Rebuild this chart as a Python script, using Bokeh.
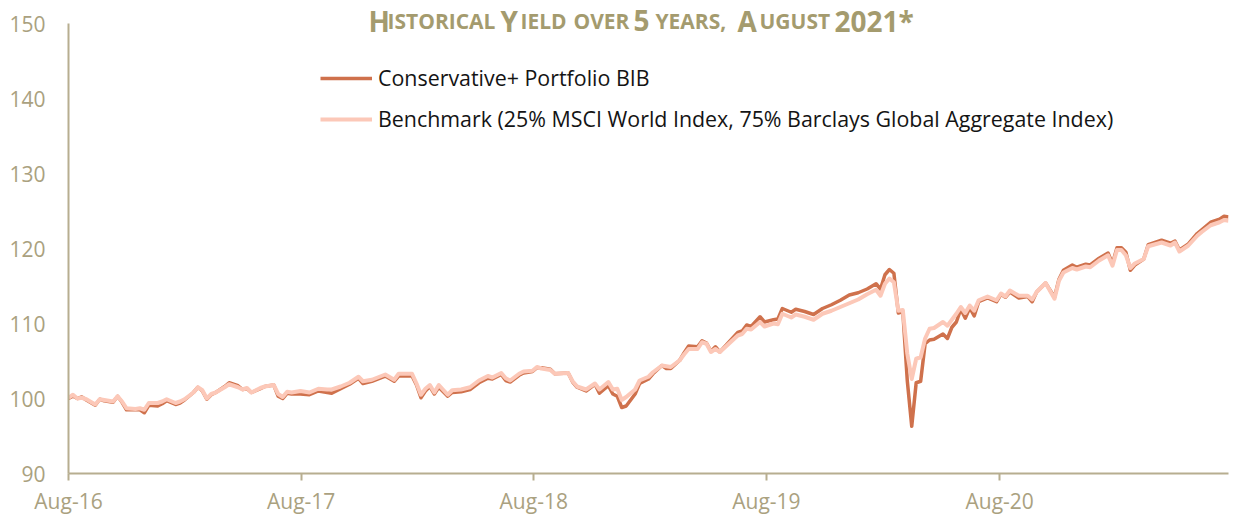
import numpy as np
import pandas as pd
from bokeh.plotting import figure
from bokeh.models import (Label, Legend, LegendItem, FixedTicker, DatetimeTickFormatter,
                          Range1d, ColumnDataSource)
from bokeh.embed import file_html
from bokeh.resources import INLINE

# ---------------- data (weekly index) ----------------
start_date = "2016-08-01"
weeks = [0, 1, 2, 3, 4, 6, 7, 8, 10, 11, 12, 13, 15, 16, 17, 18, 20, 21, 22, 24, 25, 26, 28, 29, 30, 31, 32, 33,
         35, 36, 38, 39, 40, 41, 43, 44, 46, 47, 48, 49, 50,
         52, 54, 56, 58, 59, 61, 63, 65, 66, 68, 71, 73, 74, 77, 78, 79, 80, 81, 82, 83, 85, 86, 88, 90, 92, 94,
         95, 97, 98, 99, 101, 102, 104, 105,
         106, 108, 109, 112, 113, 114, 116, 118, 119, 121, 122, 123, 124, 125, 127, 128, 130, 131, 133, 134, 135,
         137, 138, 139, 141, 142, 143, 144, 145, 146, 148, 150, 151, 152, 153, 155, 156, 158,
         159, 160, 162, 163, 165, 167, 169, 171, 173, 175, 177, 179, 181, 182, 183, 184, 185, 186, 187, 188, 189,
         190, 191, 192, 193, 194, 196, 197, 198, 199, 200, 201, 202, 203, 204, 206, 208, 209,
         210, 211, 213, 215, 216, 217, 219, 221, 222, 223, 225, 226, 228, 229, 231, 233, 234, 235, 236, 237, 238,
         239, 241, 242, 245, 247, 248, 249, 251, 253, 254, 256, 258, 259, 260]

portfolio = [100.0, 100.3, 100.0, 100.2, 99.8, 99.1, 99.9, 99.7, 99.5, 100.3, 99.5, 98.5, 98.5, 98.5, 98.1, 99.1,
             99.0, 99.3, 99.7, 99.2, 99.4, 99.8, 100.8, 101.5, 101.0, 99.9, 100.5, 100.8, 101.6, 102.1, 101.7,
             101.2, 101.3, 100.8, 101.3, 101.6, 101.8, 100.3, 100.0, 100.7, 100.6,
             100.6, 100.5, 101.0, 100.8, 100.7, 101.3, 101.9, 102.7, 102.0, 102.3, 103.0, 102.3, 103.0, 103.0,
             101.8, 100.1, 101.0, 101.6, 100.6, 101.5, 100.3, 100.8, 100.9, 101.2, 102.1, 102.7, 102.6, 103.2,
             102.4, 102.2, 103.1, 103.4, 103.6, 104.1,
             104.1, 103.9, 103.3, 103.4, 102.2, 101.5, 101.0, 101.9, 100.7, 101.7, 100.6, 100.3, 98.8, 99.0,
             100.6, 102.0, 102.6, 103.3, 104.4, 104.0, 104.0, 105.1, 106.1, 107.0, 106.9, 107.7, 107.4, 106.3,
             106.9, 106.2, 107.5, 108.8, 109.0, 109.8, 109.6, 110.9, 110.2, 110.5,
             110.6, 112.0, 111.5, 111.9, 111.6, 111.2, 112.0, 112.5, 113.1, 113.8, 114.1, 114.6, 115.3, 114.6,
             116.5, 117.2, 116.7, 111.4, 111.6, 102.4, 96.3, 102.1, 102.3, 107.3, 107.8, 107.9, 108.6, 108.0,
             109.5, 110.2, 111.9, 110.7, 112.1, 111.0, 112.9, 113.4, 112.9, 113.9,
             113.5, 114.2, 113.4, 113.6, 112.9, 114.2, 115.4, 113.5, 115.9, 117.1, 117.8, 117.5, 117.9, 117.8,
             118.7, 119.4, 118.0, 120.1, 120.1, 119.5, 117.1, 117.8, 118.6, 120.5, 121.1, 120.7, 121.0, 119.8,
             120.6, 122.0, 122.5, 123.5, 123.9, 124.3, 124.2]

benchmark = [100.1, 100.5, 100.0, 100.1, 99.9, 99.2, 99.9, 99.8, 99.6, 100.3, 99.6, 98.7, 98.6, 98.7, 98.5, 99.4,
             99.4, 99.6, 99.9, 99.4, 99.6, 99.9, 100.8, 101.5, 101.1, 100.0, 100.6, 100.8, 101.5, 101.9, 101.5,
             101.2, 101.4, 100.8, 101.4, 101.6, 101.8, 100.6, 100.2, 100.9, 100.8,
             101.0, 100.8, 101.3, 101.2, 101.2, 101.6, 102.1, 102.9, 102.3, 102.5, 103.2, 102.5, 103.3, 103.3,
             102.0, 100.5, 101.3, 101.8, 100.8, 101.8, 100.5, 101.1, 101.2, 101.5, 102.4, 103.0, 102.8, 103.4,
             102.7, 102.4, 103.3, 103.6, 103.7, 104.2,
             104.0, 103.8, 103.3, 103.4, 102.3, 101.6, 101.2, 102.0, 101.2, 102.2, 101.2, 101.3, 99.8, 100.2,
             101.2, 102.4, 102.9, 103.5, 104.4, 104.3, 104.2, 105.1, 105.9, 106.6, 106.6, 107.5, 107.3, 106.2,
             106.6, 106.2, 107.3, 108.4, 108.6, 109.3, 109.2, 110.2, 109.6, 110.0,
             109.9, 111.3, 110.8, 111.2, 110.9, 110.5, 111.3, 111.7, 112.2, 112.7, 113.2, 113.9, 114.5, 113.7,
             115.3, 116.0, 115.5, 111.7, 111.8, 106.0, 102.6, 105.3, 105.5, 108.0, 109.3, 109.4, 110.2, 109.7,
             110.5, 111.3, 112.2, 111.4, 112.4, 111.7, 113.1, 113.6, 113.1, 114.0,
             113.6, 114.4, 113.7, 113.7, 113.2, 114.2, 115.4, 113.3, 115.7, 116.8, 117.4, 117.2, 117.6, 117.5,
             118.4, 119.1, 117.7, 119.8, 119.8, 119.1, 117.4, 118.0, 118.6, 120.3, 120.8, 120.4, 120.8, 119.6,
             120.4, 121.7, 122.2, 123.1, 123.5, 123.8, 123.7]

series_names = ["Conservative+ Portfolio BIB",
                "Benchmark (25% MSCI World Index, 75% Barclays Global Aggregate Index)"]
x_tick_dates = ["2016-08-01", "2017-08-01", "2018-08-01", "2019-08-01", "2020-08-01"]
y_ticks = [90, 100, 110, 120, 130, 140, 150]
title_parts = [("H", "big"), ("ISTORICAL", "small"), ("Y", "big"), ("IELD", "small"), ("OVER", "small"),
               ("5", "big"), ("YEARS,", "small"), ("A", "big"), ("UGUST", "small"), ("2021*", "big")]

# ---------------- styling ----------------
PORT_COLOR = "#cf714c"
BENCH_COLOR = "#fcc8b8"
AXIS_COLOR = "#b7ae90"
LABEL_COLOR = "#aaa17f"
TITLE_COLOR = "#a49b6e"
FONT = "Open Sans"

dates = pd.Timestamp(start_date) + pd.to_timedelta(np.array(weeks) * 7, unit="D")
src = ColumnDataSource(dict(date=dates, port=portfolio, bench=benchmark))

W, H = 1230, 518
BL, BR, BB = 68, 2, 45
AXIS_TOP = 23          # pixel row of the top of the value axis
FRAME_H = H - BB       # frame starts at the very top so that the title is not clipped
px_per_unit = (FRAME_H - AXIS_TOP) / (y_ticks[-1] - y_ticks[0])
y_end = y_ticks[0] + FRAME_H / px_per_unit

p = figure(width=W, height=H, x_axis_type="datetime", output_backend="svg", toolbar_location=None,
           x_range=Range1d(dates[0], dates[-1]), y_range=Range1d(y_ticks[0], y_end),
           min_border_left=BL, min_border_right=BR, min_border_top=0, min_border_bottom=BB,
           title=None)
p.outline_line_color = None
p.grid.visible = False
p.background_fill_color = "white"
p.border_fill_color = "white"

# axes
p.xaxis.ticker = FixedTicker(ticks=[pd.Timestamp(d).value / 1e6 for d in x_tick_dates])
p.xaxis.formatter = DatetimeTickFormatter(years="%b-%y", months="%b-%y", days="%b-%y",
                                          hours="%b-%y", minutes="%b-%y")
p.xaxis.axis_line_color = AXIS_COLOR
p.xaxis.axis_line_width = 2
p.xaxis.major_tick_line_color = AXIS_COLOR
p.xaxis.major_tick_line_width = 2
p.xaxis.major_tick_in = 0
p.xaxis.major_tick_out = 7
p.xaxis.minor_tick_line_color = None
p.xaxis.major_label_standoff = 6
p.xaxis.major_label_text_font = FONT
p.xaxis.major_label_text_font_size = "21px"
p.xaxis.major_label_text_color = LABEL_COLOR

p.yaxis.ticker = FixedTicker(ticks=y_ticks)
p.yaxis.bounds = (y_ticks[0], y_ticks[-1])
p.yaxis.axis_line_color = AXIS_COLOR
p.yaxis.axis_line_width = 2
p.yaxis.major_tick_line_color = None
p.yaxis.minor_tick_line_color = None
p.yaxis.major_tick_in = 0
p.yaxis.major_tick_out = 0
p.yaxis.major_label_standoff = 23
p.yaxis.major_label_text_font = FONT
p.yaxis.major_label_text_font_size = "21px"
p.yaxis.major_label_text_color = LABEL_COLOR

# lines
r_port = p.line("date", "port", source=src, line_color=PORT_COLOR, line_width=3.5, line_join="round")
r_bench = p.line("date", "bench", source=src, line_color=BENCH_COLOR, line_width=4, line_join="round")

legend = Legend(items=[LegendItem(label=series_names[0], renderers=[r_port]),
                       LegendItem(label=series_names[1], renderers=[r_bench])],
                location=(252, 340), orientation="vertical",
                glyph_width=52, glyph_height=20, label_height=20, spacing=12,
                padding=0, margin=0, border_line_color=None, background_fill_alpha=0,
                label_text_font=FONT, label_text_font_size="21.4px", label_standoff=6,
                label_text_color="#141414")
p.add_layout(legend)

# title in small caps, built from pieces (left x positions in page pixels)
title_x = [368, 387, 500, 520, 573, 633, 655, 737, 759, 834]
sizes = {"big": "28px", "small": "21px"}
for (txt, kind), tx in zip(title_parts, title_x):
    p.add_layout(Label(x=tx - BL, y=FRAME_H - 20, x_units="screen", y_units="screen", text=txt,
                       text_font=FONT, text_font_style="bold", text_font_size=sizes[kind],
                       text_color=TITLE_COLOR, text_align="left", text_baseline="alphabetic"))

open("out.html", "w").write(file_html(p, INLINE))
